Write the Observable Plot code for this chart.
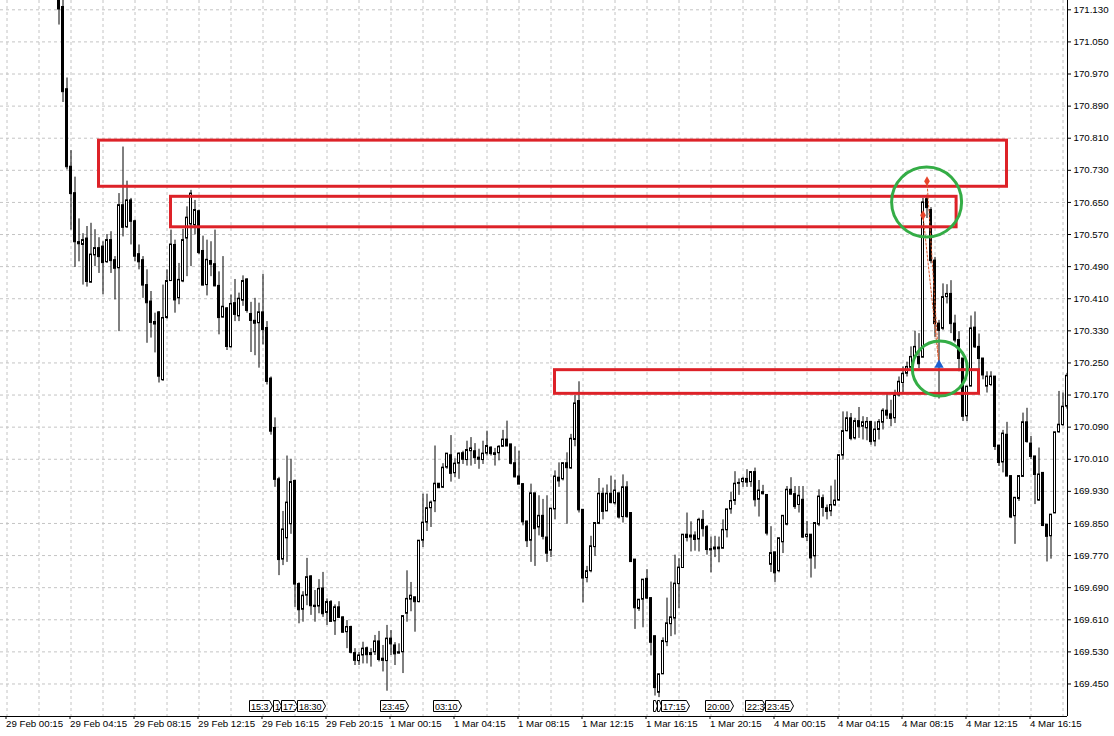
<!DOCTYPE html>
<html><head><meta charset="utf-8">
<script src="https://cdn.jsdelivr.net/npm/d3@7"></script>
<script src="https://cdn.jsdelivr.net/npm/@observablehq/plot@0.6"></script>
<style>
html,body{margin:0;padding:0;background:#fff;}
#chart svg{display:block;}
</style></head><body><div id="chart"></div><script>
// M15 bars; bar index 0 = 29 Feb 00:15. First visible bar is index 13.
const firstBar = 13;
const open = [171.190,171.137,170.932,170.739,170.673,170.551,170.544,170.560,170.450,170.518,
170.536,170.540,170.501,170.556,170.506,170.486,170.643,170.588,170.655,170.603,
170.521,170.506,170.444,170.403,170.352,170.376,170.207,170.362,170.454,170.544,
170.411,170.453,170.560,170.595,170.593,170.628,170.529,170.444,170.504,170.496,
170.442,170.363,170.386,170.289,170.399,170.366,170.405,170.458,170.372,170.355,
170.349,170.376,170.337,170.211,170.088,169.960,169.760,169.813,169.848,169.956,
169.699,169.635,169.670,169.718,169.645,169.643,169.688,169.627,169.654,169.606,
169.641,169.616,169.579,169.592,169.527,169.507,169.521,169.539,169.522,169.529,
169.556,169.513,169.507,169.563,169.546,169.529,169.529,169.625,169.660,169.666,
169.654,169.807,169.852,169.888,169.905,169.949,169.939,169.989,170.020,169.975,
169.999,170.025,170.008,170.030,170.030,170.014,170.008,170.024,170.039,170.025,
170.025,170.041,170.059,170.047,170.000,169.967,169.948,169.855,169.807,169.925,
169.840,169.869,169.815,169.782,169.885,169.964,169.960,170.000,169.987,170.058,
170.155,169.884,169.714,169.731,169.791,169.849,169.924,169.880,169.924,169.900,
169.925,169.866,169.940,169.876,169.760,169.637,169.660,169.712,169.664,169.569,
169.428,169.474,169.554,169.599,169.613,169.699,169.739,169.822,169.815,169.820,
169.810,169.859,169.841,169.786,169.785,169.790,169.787,169.833,169.885,169.906,
169.949,169.953,169.961,169.953,169.978,169.909,169.928,169.921,169.747,169.778,
169.731,169.803,169.847,169.934,169.923,169.896,169.909,169.816,169.822,169.768,
169.847,169.913,169.888,169.880,169.895,169.907,170.019,170.080,170.112,170.062,
170.105,170.091,170.087,170.103,170.054,170.083,170.101,170.131,170.122,170.112,
170.169,170.200,170.223,170.238,170.265,170.265,170.263,170.658,170.631,170.505,
170.348,170.335,170.414,170.422,170.348,170.307,170.261,170.117,170.191,170.338,
170.290,170.261,170.191,170.195,170.216,170.044,170.002,170.071,169.968,169.868,
169.911,169.966,170.102,170.049,170.017,169.907,169.976,169.847,169.818,169.875,
170.077,170.095,170.141];
const high = [171.210,171.160,170.960,170.779,170.713,170.609,170.572,170.590,170.598,170.582,
170.562,170.552,170.570,170.577,170.515,170.672,170.788,170.703,170.660,170.606,
170.544,170.515,170.482,170.428,170.374,170.378,170.444,170.482,170.581,170.556,
170.498,170.583,170.639,170.680,170.655,170.631,170.566,170.556,170.552,170.581,
170.477,170.515,170.388,170.419,170.458,170.424,170.467,170.460,170.401,170.411,
170.399,170.471,170.353,170.215,170.113,169.965,169.880,170.018,170.010,169.958,
169.702,169.680,169.763,169.720,169.683,169.710,169.728,169.662,169.658,169.647,
169.655,169.617,169.608,169.594,169.538,169.529,169.554,169.542,169.538,169.571,
169.581,169.546,169.596,169.583,169.553,169.550,169.620,169.732,169.703,169.666,
169.807,169.923,169.923,169.906,170.043,169.949,169.999,170.024,170.069,170.011,
170.026,170.030,170.055,170.064,170.049,170.035,170.055,170.080,170.041,170.037,
170.044,170.082,170.105,170.047,170.041,170.030,169.948,169.855,169.948,169.925,
169.919,169.910,169.919,169.887,169.981,170.001,170.001,170.026,170.072,170.169,
170.203,169.884,169.743,169.818,169.851,169.962,169.938,169.946,169.968,169.958,
169.925,169.971,169.954,169.876,169.760,169.660,169.710,169.735,169.664,169.569,
169.474,169.565,169.664,169.704,169.771,169.762,169.822,169.876,169.854,169.829,
169.863,169.882,169.845,169.816,169.818,169.816,169.859,169.885,169.928,169.979,
169.961,169.965,169.984,169.978,169.988,169.957,169.945,169.921,169.842,169.778,
169.813,169.869,169.942,169.964,169.942,169.942,169.942,169.855,169.822,169.851,
169.934,169.921,169.896,169.943,169.958,170.020,170.128,170.128,170.124,170.112,
170.139,170.116,170.114,170.103,170.103,170.109,170.136,170.174,170.157,170.182,
170.215,170.240,170.252,170.290,170.329,170.323,170.660,170.668,170.637,170.513,
170.356,170.447,170.445,170.455,170.369,170.328,170.261,170.191,170.367,170.377,
170.322,170.261,170.228,170.228,170.216,170.044,170.082,170.102,169.968,169.914,
169.968,170.125,170.137,170.067,170.017,170.038,169.976,169.847,169.872,170.077,
170.179,170.175,170.224];
const low = [171.092,170.899,170.731,170.581,170.488,170.502,170.444,170.439,170.449,170.490,
170.473,170.420,170.498,170.473,170.407,170.328,170.564,170.585,170.544,170.502,
170.482,170.411,170.299,170.312,170.275,170.200,170.204,170.359,170.453,170.374,
170.395,170.450,170.465,170.490,170.569,170.520,170.442,170.417,170.465,170.440,
170.320,170.362,170.281,170.287,170.353,170.353,170.391,170.374,170.276,170.268,
170.237,170.295,170.195,170.070,169.940,169.720,169.745,169.753,169.823,169.641,
169.600,169.604,169.645,169.621,169.604,169.625,169.616,169.596,169.605,169.571,
169.614,169.577,169.538,169.525,169.496,169.496,169.500,169.500,169.492,169.521,
169.505,169.480,169.432,169.521,169.496,169.525,169.476,169.604,169.630,169.579,
169.652,169.790,169.830,169.840,169.877,169.937,169.937,169.985,169.953,169.964,
169.960,169.997,169.993,169.993,169.997,169.985,169.997,170.018,170.018,169.993,
170.006,170.041,170.043,169.996,169.964,169.948,169.844,169.790,169.753,169.743,
169.819,169.809,169.753,169.765,169.859,169.940,169.956,169.848,169.985,170.041,
169.876,169.652,169.702,169.727,169.768,169.847,169.859,169.880,169.899,169.896,
169.861,169.851,169.863,169.753,169.586,169.631,169.590,169.660,169.520,169.420,
169.416,169.474,169.543,169.568,169.572,169.638,169.739,169.804,169.779,169.781,
169.779,169.816,169.771,169.727,169.765,169.752,169.787,169.814,169.873,169.895,
169.920,169.940,169.940,169.940,169.891,169.866,169.921,169.819,169.728,169.703,
169.727,169.775,169.844,169.921,169.885,169.876,169.813,169.805,169.714,169.736,
169.842,169.866,169.859,169.867,169.892,169.905,170.008,170.078,170.056,170.058,
170.062,170.058,170.056,170.045,170.041,170.058,170.083,170.109,170.091,170.099,
170.165,170.174,170.215,170.236,170.263,170.236,170.263,170.610,170.497,170.314,
170.160,170.331,170.397,170.323,170.300,170.228,170.104,170.104,170.191,170.286,
170.232,170.208,170.175,170.191,170.032,169.992,169.976,169.968,169.862,169.798,
169.905,169.966,170.050,170.009,169.897,169.905,169.842,169.754,169.761,169.875,
170.075,170.092,170.135];
const close = [171.132,170.926,170.739,170.672,170.552,170.547,170.556,170.453,170.520,170.536,
170.515,170.500,170.556,170.505,170.486,170.643,170.588,170.655,170.603,170.516,
170.502,170.444,170.400,170.351,170.347,170.217,170.362,170.454,170.545,170.407,
170.457,170.556,170.612,170.672,170.631,170.525,170.444,170.507,170.496,170.442,
170.363,170.390,170.291,170.397,170.371,170.410,170.454,170.381,170.356,170.349,
170.376,170.333,170.204,170.080,169.960,169.760,169.835,169.902,169.953,169.699,
169.635,169.670,169.716,169.645,169.643,169.687,169.625,169.654,169.606,169.641,
169.616,169.579,169.592,169.529,169.509,169.521,169.538,169.523,169.527,169.556,
169.511,169.509,169.563,169.550,169.525,169.527,169.619,169.662,169.670,169.655,
169.807,169.852,169.888,169.902,169.949,169.939,169.989,170.024,169.975,169.999,
170.024,170.010,170.033,170.037,170.014,170.010,170.024,170.043,170.024,170.022,
170.041,170.059,170.043,170.000,169.966,169.948,169.854,169.807,169.925,169.837,
169.869,169.818,169.776,169.887,169.967,169.956,170.000,169.989,170.061,170.149,
169.884,169.714,169.731,169.793,169.851,169.924,169.880,169.924,169.902,169.932,
169.866,169.940,169.867,169.755,169.640,169.660,169.710,169.664,169.554,169.441,
169.474,169.557,169.601,169.616,169.700,169.740,169.822,169.815,169.820,169.810,
169.859,169.837,169.785,169.784,169.790,169.787,169.834,169.885,169.906,169.949,
169.951,169.961,169.953,169.978,169.909,169.932,169.924,169.826,169.776,169.727,
169.813,169.869,169.934,169.923,169.892,169.919,169.816,169.822,169.764,169.851,
169.917,169.890,169.880,169.896,169.907,170.020,170.080,170.112,170.062,170.105,
170.091,170.102,170.103,170.054,170.084,170.103,170.131,170.120,170.112,170.169,
170.203,170.223,170.240,170.265,170.290,170.248,170.650,170.637,170.505,170.348,
170.331,170.414,170.422,170.348,170.307,170.261,170.117,170.191,170.336,170.290,
170.261,170.220,170.216,170.216,170.042,170.002,170.074,169.968,169.866,169.914,
169.968,170.102,170.054,170.017,169.972,169.972,169.845,169.818,169.872,170.077,
170.096,170.141,170.218];

// axis ticks / labels
const timeLabelBars = [0,16,32,48,64,80,96,112,128,144,160,176,192,208,224,240,256];
const timeLabels = ["29 Feb 00:15","29 Feb 04:15","29 Feb 08:15","29 Feb 12:15","29 Feb 16:15","29 Feb 20:15",
  "1 Mar 00:15","1 Mar 04:15","1 Mar 08:15","1 Mar 12:15","1 Mar 16:15","1 Mar 20:15",
  "4 Mar 00:15","4 Mar 04:15","4 Mar 08:15","4 Mar 12:15","4 Mar 16:15"];
const gridBars = [0,8,16,24,32,40,48,56,64,72,80,88,96,104,112,120,128,136,144,152,160,168,176,184,192,200,208,216,224,232,240,248,256,264];
const priceTicks = [169.45,169.53,169.61,169.69,169.77,169.85,169.93,170.01,170.09,170.17,170.25,170.33,170.41,170.49,170.57,170.65,170.73,170.81,170.89,170.97,171.05,171.13];

// drawn objects
const zoneStart = [23, 41, 137];
const zoneEnd = [250, 237.4, 243];
const zoneTop = [170.804, 170.664, 170.232];
const zoneBottom = [170.689, 170.588, 170.173];
const circleBar = [229.9, 233.2];
const circlePrice = [170.651, 170.236];
const tradeOpenBar = [230, 229];
const tradeOpenPrice = [170.703, 170.618];
const tradeCloseBar = [233, 233];
const tradeClosePrice = [170.245, 170.245];
const tagBars = [61, 67, 69, 73, 94, 107, 162, 163, 164, 175, 185, 190];
const tagTexts = ["15:3", "1", "17:", "18:30", "23:45", "03:10", "", "", "17:15", "20:00", "22:3", "23:45"];

const bars = open.map((o, k) => ({i: firstBar + k, o, h: high[k], l: low[k], c: close[k]}));
const bull = bars.filter(d => d.c >= d.o);
const bear = bars.filter(d => d.c < d.o);
const zones = zoneStart.map((s, k) => ({s, e: zoneEnd[k], t: zoneTop[k], b: zoneBottom[k]}));
const tradeLinks = tradeOpenBar.flatMap((b, k) => [
  {k, b, p: tradeOpenPrice[k]},
  {k, b: tradeCloseBar[k], p: tradeClosePrice[k]}
]);
const opens = tradeOpenBar.map((b, k) => ({b, p: tradeOpenPrice[k]}));
const closes = [{b: tradeCloseBar[0], p: tradeClosePrice[0]}];

const RED = "#dd2228", GREEN = "#34ad46", GRID = "#c4c4c4";
const xDom = [-1.625, 265.125];
const yDom = [169.36897, 171.15317];
const FONT = "'Liberation Sans', Arial, sans-serif";

const chart = Plot.plot({
  width: 1114, height: 736,
  marginLeft: 0, marginRight: 47, marginTop: 0, marginBottom: 20,
  x: {domain: xDom, axis: null},
  y: {domain: yDom, axis: null},
  style: {fontFamily: FONT, fontSize: "9.7px", background: "#fff", color: "#000", overflow: "visible"},
  marks: [
    Plot.gridY(priceTicks, {stroke: GRID, strokeOpacity: 1, strokeDasharray: "3,3"}),
    Plot.gridX(gridBars, {stroke: GRID, strokeOpacity: 1, strokeDasharray: "3,3"}),
    Plot.ruleX(bars, {x: "i", y1: "l", y2: "h", stroke: "#000", strokeWidth: 1, clip: true}),
    Plot.rect(bull, {x1: d => d.i - 0.25, x2: d => d.i + 0.25, y1: "o", y2: "c", fill: "#fff", stroke: "#000", strokeWidth: 1, clip: true}),
    Plot.rect(bear, {x1: d => d.i - 0.25, x2: d => d.i + 0.25, y1: "o", y2: "c", fill: "#000", stroke: "#000", strokeWidth: 1, clip: true}),
    Plot.ruleY(bars, {y: "c", x1: d => d.i - 0.375, x2: d => d.i + 0.375, stroke: "#000", strokeWidth: 1, clip: true}),
    Plot.rect(zones, {x1: "s", x2: "e", y1: "b", y2: "t", fill: "none", stroke: RED, strokeWidth: 3}),
    Plot.line(tradeLinks, {x: "b", y: "p", z: "k", stroke: "#d9582e", strokeWidth: 1, strokeDasharray: "2,2"}),
    Plot.dot([{b: circleBar[0], p: circlePrice[0]}], {x: "b", y: "p", r: 35, stroke: GREEN, strokeWidth: 3, fill: "none"}),
    Plot.dot([{b: circleBar[1], p: circlePrice[1]}], {x: "b", y: "p", r: 27.5, stroke: GREEN, strokeWidth: 3, fill: "none"}),
    Plot.dot(opens, {x: "b", y: "p", symbol: "diamond", r: 3, fill: "#e8442a", stroke: "none"}),
    Plot.dot(closes, {x: "b", y: "p", symbol: "triangle", r: 3.5, fill: "#1d5fd0", stroke: "none"}),
    Plot.ruleX([xDom[1]], {stroke: "#000"}),
    Plot.ruleY([yDom[0]], {stroke: "#000"}),
    Plot.axisY(priceTicks, {anchor: "right", tickSize: 3, tickPadding: 3, tickFormat: d => d.toFixed(3), label: null}),
    Plot.axisX(timeLabelBars, {anchor: "bottom", tickSize: 3, tickPadding: 1, tickFormat: d => timeLabels[timeLabelBars.indexOf(d)], textAnchor: "start", dx: -1, label: null})
  ]
});
document.getElementById("chart").appendChild(chart);

// vertical-line time tags at the bottom of the chart (positioned with Plot's x scale)
const sx = chart.scale("x");
const TAG_FS = 9;
const ctx = document.createElement("canvas").getContext("2d");
ctx.font = `${TAG_FS}px 'Liberation Sans'`;
const bottomY = 736 - 20;
const g = d3.select(chart).append("g").attr("font-family", FONT).attr("font-size", TAG_FS).attr("text-anchor", "start");
tagBars.forEach((b, k) => {
  const x0 = Math.round(sx.apply(b)) - 1.5;
  let w = Math.round(ctx.measureText(tagTexts[k]).width + 5);
  if (k + 1 < tagBars.length) w = Math.min(w, Math.round(sx.apply(tagBars[k + 1])) - 1.5 - x0);
  const top = bottomY - 15.5, bot = bottomY - 4.5, tip = Math.min(3, w / 2);
  g.append("path")
    .attr("d", `M${x0},${top}H${x0 + w - tip}L${x0 + w},${(top + bot) / 2}L${x0 + w - tip},${bot}H${x0}Z`)
    .attr("fill", "#fff").attr("stroke", "#000").attr("stroke-width", 1);
  if (tagTexts[k]) g.append("text").attr("x", x0 + 1.5).attr("y", bot - 2).text(tagTexts[k]);
});
</script></body></html>
